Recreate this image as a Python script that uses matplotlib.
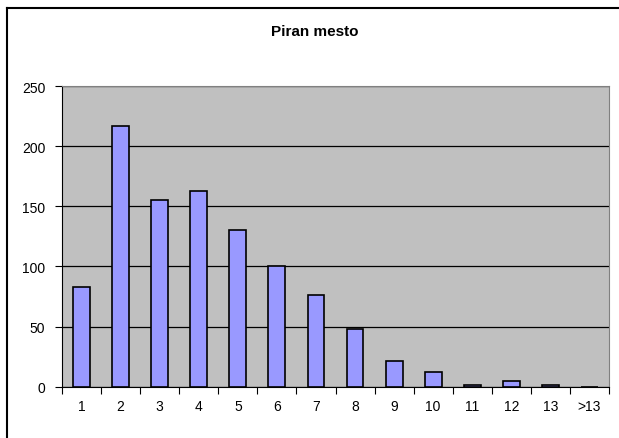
import matplotlib.pyplot as plt
from matplotlib.lines import Line2D

categories = ["1", "2", "3", "4", "5", "6", "7", "8", "9", "10", "11", "12", "13", ">13"]
counts = [83, 217, 155, 163, 130, 100, 76, 48, 21, 12, 1, 5, 1, 0]
y_ticks = [0, 50, 100, 150, 200, 250]


def plot() -> plt.Figure:
    plt.rcParams["font.family"] = ["Liberation Sans", "DejaVu Sans"]

    fig = plt.figure(figsize=(6.19, 4.39), dpi=100)
    ax = fig.add_axes([62 / 619, 1 - 387.7 / 439, 547 / 619, 300.7 / 439])

    x = range(len(categories))
    ax.bar(x, counts, width=0.43, color="#9999FF", edgecolor="black", linewidth=1.2, zorder=3)

    ax.set_facecolor("#C0C0C0")
    ax.set_xlim(-0.5, len(categories) - 0.5)
    ax.set_ylim(0, 250)
    ax.set_yticks(y_ticks)
    ax.yaxis.grid(True, color="black", linewidth=0.9, zorder=1)

    ax.set_xticks(list(x))
    ax.set_xticklabels(categories)
    ax.set_xticks([i - 0.5 for i in range(len(categories) + 1)], minor=True)
    ax.tick_params(axis="x", which="major", length=0, pad=9, labelsize=10)
    ax.tick_params(axis="x", which="minor", length=5, direction="out", width=0.8)
    ax.tick_params(axis="y", length=5, direction="out", width=0.8, labelsize=10, pad=7)

    ax.spines[["left", "bottom"]].set_color("black")
    ax.spines[["top", "right"]].set_color("#808080")

    fig.text(315 / 619, 1 - 32 / 439, "Piran mesto", ha="center", va="center",
             fontsize=11, fontweight="bold")

    # chart area border (only top and left visible in the crop)
    fig.add_artist(Line2D([7 / 619, 1], [1 - 9 / 439, 1 - 9 / 439], color="black", linewidth=1.5))
    fig.add_artist(Line2D([7 / 619, 7 / 619], [0, 1 - 9 / 439], color="black", linewidth=1.5))

    return fig


def main():
    fig = plot()
    fig.savefig("out.png", dpi=100)


if __name__ == "__main__":
    main()
